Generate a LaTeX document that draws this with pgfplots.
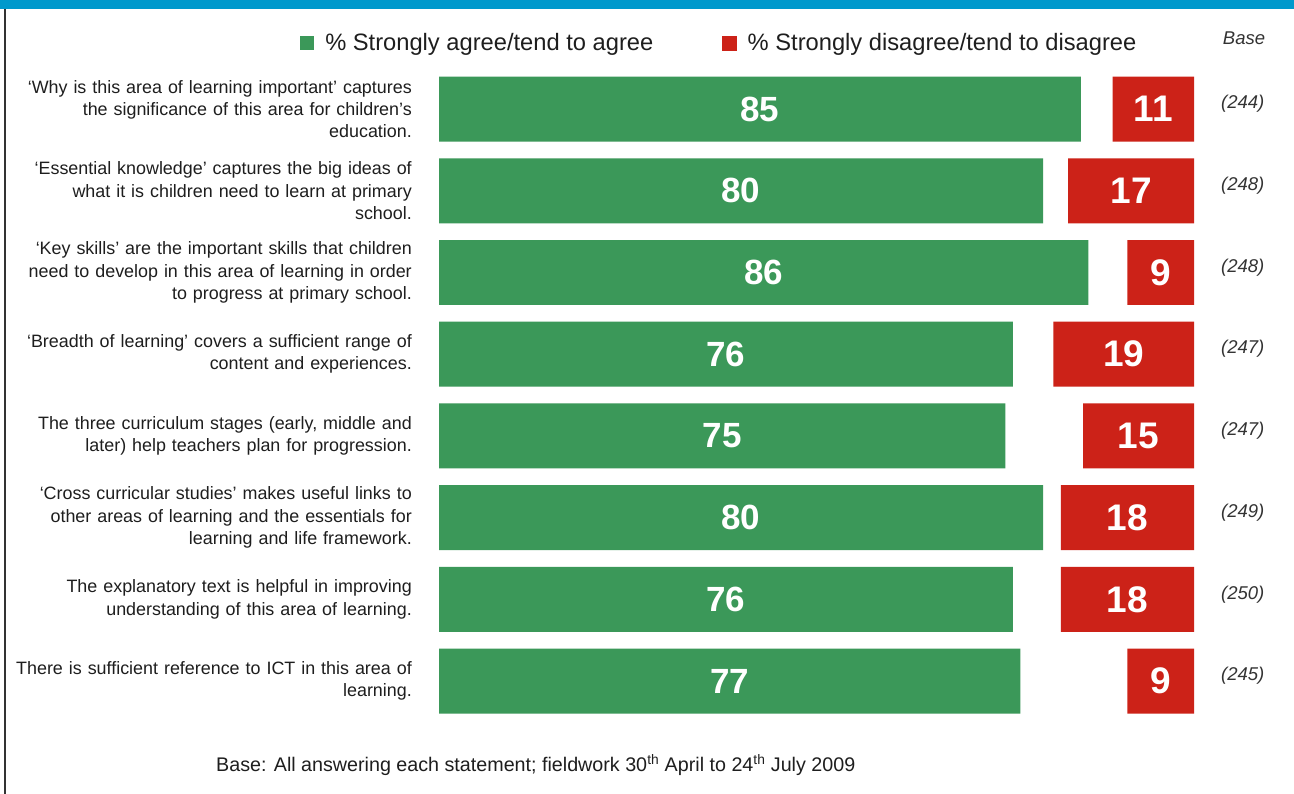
\documentclass[border=0pt]{standalone}
\usepackage{fontspec}
\setmainfont{Liberation Sans}
\usepackage{pgfplots}
\pgfplotsset{compat=1.18}
\definecolor{agreegreen}{RGB}{59,152,89}
\definecolor{disred}{RGB}{204,34,24}
\definecolor{band}{RGB}{0,153,204}
\definecolor{txt}{RGB}{30,30,30}
\definecolor{basetxt}{RGB}{51,51,51}
\begin{document}
\begin{tikzpicture}[x=1bp,y=1bp]
\useasboundingbox (0,0) rectangle (1294,794);
\fill[white] (0,0) rectangle (1294,794);
\fill[band] (0,785) rectangle (1294,794);
\draw[line width=1.5bp, black!80] (5,0) -- (5,785);

\begin{axis}[
  at={(439bp,72.1bp)}, anchor=south west,
  scale only axis, width=755bp, height=653.7bp,
  xmin=0, xmax=100, ymin=-0.5, ymax=7.5, y dir=reverse,
  axis line style={draw=none}, xtick=\empty, ytick={0,...,7},
  major tick length=0pt,
  /pgf/number format/assume math mode=true,
  yticklabels={
    {‘Why is this area of learning important’ captures\\the significance of this area for children’s\\education.},
    {‘Essential knowledge’ captures the big ideas of\\what it is children need to learn at primary\\school.},
    {‘Key skills’ are the important skills that children\\need to develop in this area of learning in order\\to progress at primary school.},
    {‘Breadth of learning’ covers a sufficient range of\\content and experiences.},
    {The three curriculum stages (early, middle and\\later) help teachers plan for progression.},
    {‘Cross curricular studies’ makes useful links to\\other areas of learning and the essentials for\\learning and life framework.},
    {The explanatory text is helpful in improving\\understanding of this area of learning.},
    {There is sufficient reference to ICT in this area of\\learning.}},
  yticklabel style={font=\fontsize{17.9bp}{22.3bp}\selectfont, text width=420bp, align=right,
    anchor=east, inner sep=0pt, xshift=-27bp, text=txt},
  xbar, bar width=0.795, bar shift=0pt,
  clip=false,
  legend columns=2,
  legend style={at={(-0.184,1.0386)}, anchor=west, draw=none, fill=none,
    inner sep=0pt, row sep=0pt,
    font=\fontsize{23.7bp}{27bp}\selectfont, text=txt,
    nodes={inner sep=0pt},
    /tikz/every odd column/.append style={column sep=11bp},
    /tikz/every even column/.append style={column sep=69bp}},
]
\addplot[fill=agreegreen, draw=none,
  legend image code/.code={\fill[agreegreen] (0bp,-7bp) rectangle (14bp,7bp);},
  nodes near coords, point meta=x,
  visualization depends on={x \as \rawx},
  every node near coord/.append style={anchor=center, xshift=-\rawx*3.7765bp,
    font=\bfseries\fontsize{35bp}{35bp}\selectfont, text=white}]
  coordinates {(85,0) (80,1) (86,2) (76,3) (75,4) (80,5) (76,6) (77,7)};
\addlegendentry{\% Strongly agree/tend to agree}
\addlegendimage{legend image code/.code={\fill[disred] (0bp,-7bp) rectangle (14bp,7bp);}}
\addlegendentry{\% Strongly disagree/tend to disagree}
\end{axis}

\begin{axis}[
  at={(439bp,72.1bp)}, anchor=south west,
  scale only axis, width=755bp, height=653.7bp,
  xmin=0, xmax=102.03, x dir=reverse, ymin=-0.5, ymax=7.5, y dir=reverse,
  axis line style={draw=none}, xtick=\empty, ytick={0,...,7},
  major tick length=0pt,
  /pgf/number format/assume math mode=true,
  yticklabel pos=right,
  yticklabels={(244),(248),(248),(247),(247),(249),(250),(245)},
  yticklabel style={font=\itshape\fontsize{18.5bp}{22bp}\selectfont, anchor=west,
    inner sep=0pt, xshift=27bp, yshift=5bp, text=basetxt},
  xbar, bar width=0.795, bar shift=0pt,
  clip=false,
]
\addplot[fill=disred, draw=none,
  nodes near coords, point meta=x,
  visualization depends on={x \as \rawx},
  every node near coord/.append style={anchor=center, xshift=\rawx*3.7bp,
    font=\bfseries\fontsize{37bp}{37bp}\selectfont, text=white}]
  coordinates {(11,0) (17,1) (9,2) (19,3) (15,4) (18,5) (18,6) (9,7)};
\end{axis}

\node[font=\itshape\fontsize{18.5bp}{22bp}\selectfont, text=basetxt] at (1244,756) {Base};
\node[anchor=base west, inner sep=0pt, font=\fontsize{19.7bp}{23bp}\selectfont, text=txt]
  at (216,22) {Base: All answering each statement; fieldwork 30\textsuperscript{th} April to 24\textsuperscript{th} July 2009};
\end{tikzpicture}
\end{document}
